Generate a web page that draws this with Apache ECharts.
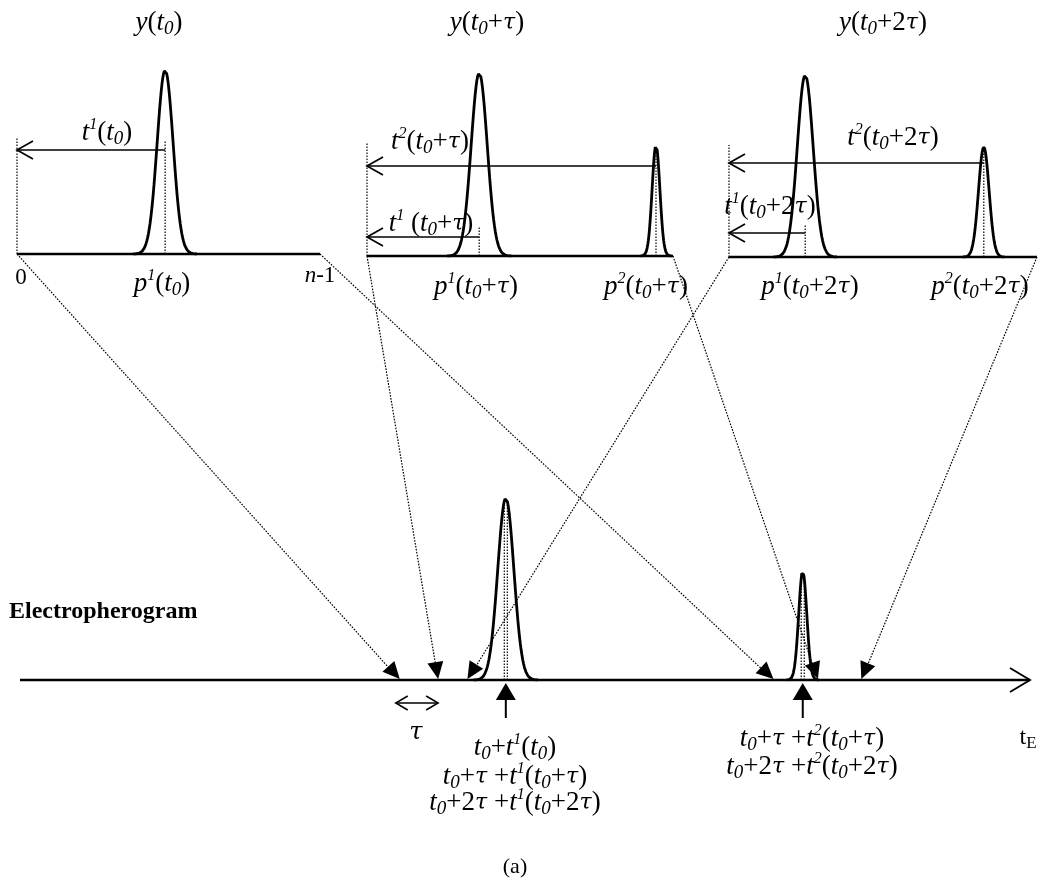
<!DOCTYPE html>
<html><head><meta charset="utf-8">
<script src="https://cdn.jsdelivr.net/npm/echarts@6/dist/echarts.min.js"></script>
<style>html,body{margin:0;padding:0;background:#fff}#c{width:1041px;height:886px}</style>
</head><body><div id="c"></div>
<script>
// ---------------- DATA ----------------
// detector windows: scan index 0 .. n-1
const N_SCANS = 100;
const panelTitles = ['y(t_0)', 'y(t_0+τ)', 'y(t_0+2τ)'];
const panelPeakPos = [[48.4], [36.3, 93.5], [24.5, 81.9]];
const panelPeakHeight = [[0.92], [0.915, 0.555], [0.91, 0.55]];
const panelPeakSigma = [[2.6], [2.6, 1.25], [2.55, 1.7]];
const panelArrowLevel = [[0.52], [0.095, 0.45], [0.12, 0.47]];
const panelMarkerTop = [[0.57], [0.145, 0.54], [0.16, 0.535]];
const panelEdgeTop = [0.58, 0.57, 0.56];
const panelArrowLabels = [['t^1(t_0)'], ['t^1 (t_0+τ)', 't^2(t_0+τ)'], ['t^1(t_0+2τ)', 't^2(t_0+2τ)']];
const panelPeakLabels = [['p^1(t_0)'], ['p^1(t_0+τ)', 'p^2(t_0+τ)'], ['p^1(t_0+2τ)', 'p^2(t_0+2τ)']];
const scanTickLabels = ['0', 'n-1'];

// electropherogram (time axis tE, 0..100)
const ePeakPos = [48.1, 77.5];
const ePeakHeight = [0.91, 0.545];
const ePeakSigma = [0.8, 0.4];
const eMarkerOffsets = [[-0.15, 0.15], [-0.15, 0.15]];
const windowStartTE = [37.6, 41.4, 44.3];   // t0, t0+τ, t0+2τ
const windowEndTE = [74.6, 79.0, 83.3];
const ePeakLabels = [
  ['t_0+t^1(t_0)', 't_0+τ +t^1(t_0+τ)', 't_0+2τ +t^1(t_0+2τ)'],
  ['t_0+τ +t^2(t_0+τ)', 't_0+2τ +t^2(t_0+2τ)']
];
const tauLabel = 'τ';
const axisLabel = 't_E';
const titleLabel = 'Electropherogram';
const captionLabel = '(a)';

// ---------------- LAYOUT ----------------
const panelGrids = [
  {left: 17, top: 54, width: 303, height: 200},
  {left: 367, top: 56, width: 306, height: 200},
  {left: 729, top: 57, width: 308, height: 200}
];
const eGridBox = {left: 20, top: 480, width: 1010, height: 400};
const titlePos = [[159, 23], [487, 23], [883, 23]];
const arrowLabelPos = [[[107, 133]], [[431, 224], [430, 142]], [[770, 207], [893, 138]]];
const peakLabelPos = [[[162, 284]], [[476, 287], [646, 287]], [[810, 287], [980, 287]]];
const scanTickPos = [[21, 278], [320, 276]];
const ePeakLabelPos = [[515, [748, 777, 803]], [812, [739, 767]]];
const FONT = '"Liberation Serif", "Times New Roman", serif';
const FS = 27;

// ---------------- HELPERS ----------------
function peakCurve(c, h, s) {
  const pts = [];
  for (let k = -40; k <= 40; k++) {
    const x = c + (k / 10) * s;
    pts.push([x, h * Math.exp(-0.5 * Math.pow((x - c) / s, 2))]);
  }
  return pts;
}
function richStyles(fs) {
  return {
    it: {fontFamily: FONT, fontSize: fs, fontStyle: 'italic', lineHeight: fs + 6},
    rm: {fontFamily: FONT, fontSize: fs, lineHeight: fs + 6},
    ta: {fontFamily: '"DejaVu Serif", serif', fontSize: Math.round(fs * 0.8), fontStyle: 'italic', lineHeight: fs + 6},
    sb: {fontFamily: FONT, fontSize: Math.round(fs * 0.7), fontStyle: 'italic', padding: [Math.round(fs * 0.45), 0, 0, 0]},
    sbr: {fontFamily: FONT, fontSize: Math.round(fs * 0.7), padding: [Math.round(fs * 0.5), 0, 0, 0]},
    sp: {fontFamily: FONT, fontSize: Math.round(fs * 0.6), fontStyle: 'italic', padding: [0, 0, Math.round(fs * 0.62), 0]}
  };
}
function rich(str, upright) {
  let out = '', i = 0;
  const cls = c => c === 'τ' ? 'ta' : ((!upright && /[A-Za-z]/.test(c)) ? 'it' : 'rm');
  while (i < str.length) {
    const c = str[i];
    if (c === '_' || c === '^') {
      out += '{' + (c === '_' ? (upright ? 'sbr' : 'sb') : 'sp') + '|' + str[i + 1] + '}';
      i += 2; continue;
    }
    const k = cls(c); let s = '', j = i;
    while (j < str.length && str[j] !== '_' && str[j] !== '^' && cls(str[j]) === k) { s += str[j]; j++; }
    out += '{' + k + '|' + s + '}';
    i = j;
  }
  return out;
}
function textEl(str, pos, fs, opts) {
  opts = opts || {};
  return {
    type: 'text', x: pos[0], y: pos[1], silent: true, z: 100,
    style: {
      text: opts.plain ? str : rich(str, opts.upright),
      rich: richStyles(fs),
      fontFamily: FONT, fontSize: fs, fontWeight: opts.bold ? 'bold' : 'normal',
      fill: '#000', align: opts.align || 'center', verticalAlign: 'middle',
      textAlign: opts.align || 'center', textVerticalAlign: 'middle'
    }
  };
}

// ---------------- CHART ----------------
const chart = echarts.init(document.getElementById('c'), null, {renderer: 'canvas'});
const grids = [], xAxes = [], yAxes = [], series = [];
const baseS = {type: 'line', symbol: 'none', silent: true, animation: false, clip: false};
const DOT = [1.6, 1.4];

panelGrids.forEach((g, k) => {
  grids.push(Object.assign({containLabel: false}, g));
  xAxes.push({type: 'value', gridIndex: k, min: 0, max: N_SCANS - 1, show: false});
  yAxes.push({type: 'value', gridIndex: k, min: 0, max: 1, show: false});
  const ax = {xAxisIndex: k, yAxisIndex: k};
  series.push(Object.assign({}, baseS, ax, {data: [[0, 0], [N_SCANS - 1, 0]], lineStyle: {color: '#000', width: 2.4}}));
  series.push(Object.assign({}, baseS, ax, {data: [[0, 0], [0, panelEdgeTop[k]]], lineStyle: {color: '#000', width: 1.2, type: DOT}}));
  panelPeakPos[k].forEach((p, j) => {
    series.push(Object.assign({}, baseS, ax, {data: peakCurve(p, panelPeakHeight[k][j], panelPeakSigma[k][j]), lineStyle: {color: '#000', width: 2.8}}));
    series.push(Object.assign({}, baseS, ax, {data: [[p, 0], [p, panelMarkerTop[k][j]]], lineStyle: {color: '#000', width: 1.2, type: DOT}}));
    series.push(Object.assign({}, baseS, ax, {data: [[p, panelArrowLevel[k][j]], [0, panelArrowLevel[k][j]]], lineStyle: {color: '#000', width: 1.6}}));
  });
});
const E = panelGrids.length;
grids.push(Object.assign({containLabel: false}, eGridBox));
xAxes.push({type: 'value', gridIndex: E, min: 0, max: 100, show: false});
yAxes.push({type: 'value', gridIndex: E, min: -1, max: 1, show: false});
const eax = {xAxisIndex: E, yAxisIndex: E};
series.push(Object.assign({}, baseS, eax, {data: [[0, 0], [100, 0]], lineStyle: {color: '#000', width: 2.4}}));
ePeakPos.forEach((p, j) => {
  series.push(Object.assign({}, baseS, eax, {data: peakCurve(p, ePeakHeight[j], ePeakSigma[j]), lineStyle: {color: '#000', width: 2.8}}));
  eMarkerOffsets[j].forEach(o => {
    series.push(Object.assign({}, baseS, eax, {data: [[p + o, 0], [p + o, ePeakHeight[j] - 0.01]], lineStyle: {color: '#000', width: 1.2, type: DOT}}));
  });
  // upward pointer under the peak
  series.push(Object.assign({}, baseS, eax, {data: [[p, -0.19], [p, -0.07]], lineStyle: {color: '#000', width: 2}}));
});
// tau double arrow between the first two window starts
series.push(Object.assign({}, baseS, eax, {data: [[windowStartTE[0] - 0.4, -0.115], [windowStartTE[1], -0.115]], lineStyle: {color: '#000', width: 1.4}}));

chart.setOption({
  animation: false,
  backgroundColor: '#fff',
  grid: grids, xAxis: xAxes, yAxis: yAxes, series: series
});

// ---------------- OVERLAYS (computed from the scales) ----------------
const gfx = [];
const P = (gi, pt) => chart.convertToPixel({gridIndex: gi}, pt);
function chevron(tip, dir, len, half, lw) {
  const [dx, dy] = dir; const nx = -dy, ny = dx;
  const bx = tip[0] - dx * len, by = tip[1] - dy * len;
  gfx.push({type: 'polyline', silent: true, z: 50,
    shape: {points: [[bx + nx * half, by + ny * half], tip, [bx - nx * half, by - ny * half]]},
    style: {stroke: '#000', lineWidth: lw, fill: null}});
}
function filledHead(tip, dir, len, half) {
  const [dx, dy] = dir; const nx = -dy, ny = dx;
  const bx = tip[0] - dx * len, by = tip[1] - dy * len;
  gfx.push({type: 'polygon', silent: true, z: 50,
    shape: {points: [tip, [bx + nx * half, by + ny * half], [bx - nx * half, by - ny * half]]},
    style: {fill: '#000'}});
}
function dottedArrow(a, b) {
  const dx = b[0] - a[0], dy = b[1] - a[1], L = Math.hypot(dx, dy);
  const u = [dx / L, dy / L];
  const end = [b[0] - u[0] * 12, b[1] - u[1] * 12];
  gfx.push({type: 'line', silent: true, z: 40, shape: {x1: a[0], y1: a[1], x2: end[0], y2: end[1]},
    style: {stroke: '#000', lineWidth: 1.2, lineDash: DOT}});
  filledHead([b[0], b[1] - 1], u, 17, 8);
}

panelGrids.forEach((g, k) => {
  // horizontal arrows: open heads at scan 0
  panelArrowLevel[k].forEach(lv => chevron(P(k, [0, lv]), [-1, 0], 16, 9, 1.7));
  // projection of the window onto the electropherogram time axis
  dottedArrow(P(k, [0, 0]), P(E, [windowStartTE[k], 0]));
  dottedArrow(P(k, [N_SCANS - 1, 0]), P(E, [windowEndTE[k], 0]));
  gfx.push(textEl(panelTitles[k], titlePos[k], FS));
  panelArrowLabels[k].forEach((s, j) => gfx.push(textEl(s, arrowLabelPos[k][j], FS)));
  panelPeakLabels[k].forEach((s, j) => gfx.push(textEl(s, peakLabelPos[k][j], FS)));
});
scanTickLabels.forEach((s, j) => gfx.push(textEl(s, scanTickPos[j], 23, {upright: j === 0})));

// time-axis arrow head
chevron(P(E, [100, 0]), [1, 0], 20, 12, 1.9);
// tau double arrow heads
const tA = P(E, [windowStartTE[0] - 0.4, -0.115]), tB = P(E, [windowStartTE[1], -0.115]);
chevron(tA, [-1, 0], 12, 7, 1.5);
chevron(tB, [1, 0], 12, 7, 1.5);
gfx.push(textEl(tauLabel, [(tA[0] + tB[0]) / 2 - 1, 733], 30));
// peak pointers
ePeakPos.forEach((p, j) => {
  filledHead(P(E, [p, -0.015]), [0, -1], 17, 10);
  const [cx, ys] = ePeakLabelPos[j];
  ePeakLabels[j].forEach((s, i) => gfx.push(textEl(s, [cx, ys[i]], FS)));
});
gfx.push(textEl(axisLabel, [1028, 738], 24, {upright: true}));
gfx.push(textEl(titleLabel, [9, 612], 24, {plain: true, bold: true, align: 'left'}));
gfx.push(textEl(captionLabel, [515, 867], 22, {plain: true}));

chart.setOption({graphic: {elements: gfx}});
</script>
</body></html>
